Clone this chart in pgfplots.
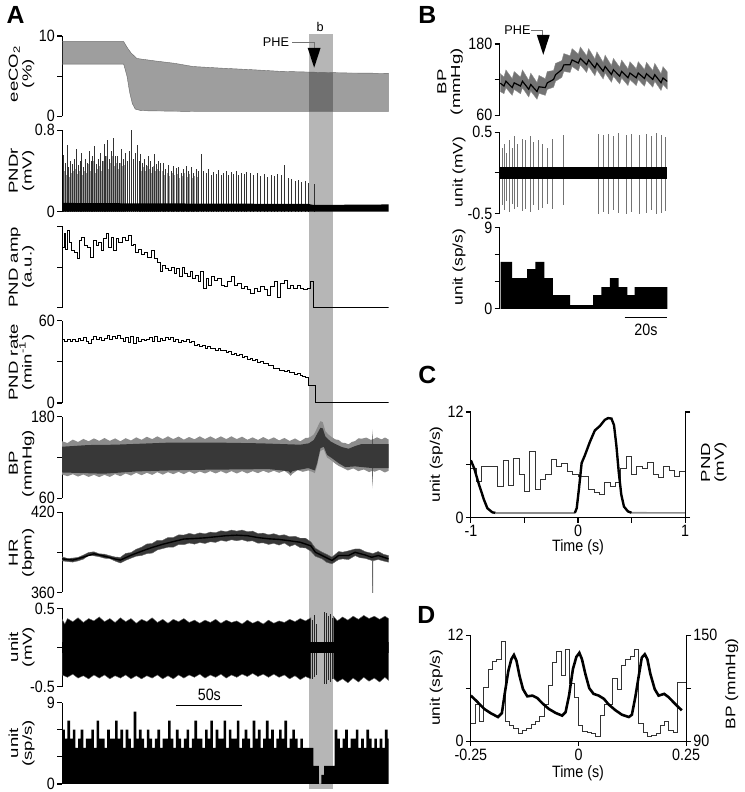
\documentclass[border=0pt]{standalone}
\usepackage{fontspec}
\setmainfont{Liberation Sans}
\usepackage{pgfplots}
\pgfplotsset{compat=1.18}
\definecolor{bandgray}{RGB}{182,182,182}
\newcommand\tkf{\fontsize{7.2}{8}\selectfont}
\newcommand\lbf{\fontsize{6.6}{6.9}\selectfont\lineskiplimit=-20pt\relax}
\newcommand\rlf{\fontsize{7}{8}\selectfont}
\newcommand\smf{\fontsize{6.4}{7}\selectfont}
\pgfplotsset{
  base/.style={scale only axis, anchor=north west, tick align=outside,
    major tick length=2.5pt, axis line style={-, line width=0.6pt},
    every outer x axis line/.append style={-}, every outer y axis line/.append style={-},
    tick style={line width=0.6pt, black}, tick label style={font=\tkf, yscale=1.15},
    yticklabel style={inner sep=1pt}, xticklabel style={inner sep=1pt},
    enlargelimits=false},
  trA/.style={base, axis x line=none, axis y line*=left, xmin=0, xmax=246.75, width=164.5pt},
  trB/.style={base, axis x line=none, axis y line*=left, xmin=0, xmax=78.6, width=84.5pt},
}
\tikzset{
  labA/.style={rotate=90, xscale=1.42, align=center, font=\lbf},
  labR/.style={rotate=90, xscale=1.25, font=\rlf},
  labH/.style={yscale=1.15, font=\tkf},
}
\begin{document}
\begin{tikzpicture}
\begin{scope}[x=0.5pt,y=-0.5pt]
\path[use as bounding box] (0,0) rectangle (742,792);
\fill[bandgray] (307,31) rectangle (331,792);
\end{scope}

% ---------- A1 eeCO2
\begin{axis}[trA, at={(29pt,-16.5pt)}, height=40.5pt, ymin=0, ymax=10, ytick={0,5,10}, yticklabels={0,,10}]
\addplot[fill=black, fill opacity=0.38, draw=black!60, line width=0.2pt] coordinates {
(0,9.3)(46.5,9.3)(49,8.6)(52,7.9)(56.5,7.2)(70,6.9)(85,6.6)(99,6.2)(120,6.0)(144,5.8)(165,5.6)(189,5.5)(215,5.4)(246.75,5.35)
(246.75,0.6)(100,0.6)(60,0.7)(55.25,0.9)(53,1.6)(51,3)(49,5)(46.5,6.5)(0,6.5)} -- cycle;
\end{axis}

% ---------- A2 PNDr
\begin{axis}[trA, at={(29pt,-64pt)}, height=41pt, ymin=0, ymax=0.8, ytick={0,0.8}, yticklabels={0,0.8}]
\addplot[ycomb, black!40, line width=0.45pt] coordinates {
(1.5,0.40)(2.9,0.36)(4.3,0.45)(5.7,0.34)(7.1,0.38)(8.5,0.40)(9.9,0.42)(11.3,0.37)(12.7,0.40)(14.1,0.45)(15.5,0.36)(16.9,0.40)(18.3,0.38)(19.7,0.47)(21.1,0.40)(22.5,0.42)(23.9,0.50)(25.3,0.38)(26.7,0.42)(28.1,0.45)(29.5,0.40)(30.9,0.50)(32.3,0.45)(33.7,0.55)(35.1,0.42)(36.5,0.48)(37.9,0.55)(39.3,0.45)(40.7,0.48)(42.2,0.42)(43.7,0.48)(45.2,0.45)(46.7,0.46)(48.2,0.42)(49.7,0.50)(51.2,0.55)(52.7,0.45)(54.2,0.48)(55.7,0.50)(57.2,0.42)(58.7,0.45)(60.2,0.40)(61.7,0.44)(63.2,0.40)(64.7,0.45)(66.2,0.42)(67.7,0.38)(69.2,0.45)(70.7,0.40)(72.2,0.42)(73.7,0.40)(75.5,0.40)(77.4,0.36)(79.3,0.38)(81.2,0.35)(83.1,0.38)(85.0,0.36)(86.9,0.37)(88.8,0.33)(90.7,0.35)(92.6,0.38)(94.5,0.34)(96.4,0.37)(98.3,0.33)(100.2,0.35)(102.1,0.34)};
\addplot[ycomb, black!80, line width=0.4pt] coordinates {
(0.8,0.56)(2.2,0.48)(3.6,0.65)(5.0,0.44)(6.4,0.50)(7.8,0.47)(9.2,0.52)(10.6,0.62)(12.0,0.46)(13.4,0.50)(14.8,0.58)(16.2,0.44)(17.6,0.52)(19.0,0.48)(20.4,0.60)(21.8,0.50)(23.2,0.55)(24.6,0.64)(26.0,0.47)(27.4,0.52)(28.8,0.58)(30.2,0.50)(31.6,0.66)(33.0,0.55)(34.4,0.70)(35.8,0.52)(37.2,0.60)(38.6,0.72)(40.0,0.55)
(41.5,0.55)(43.0,0.48)(44.5,0.62)(46.0,0.52)(47.5,0.58)(49.0,0.50)(50.5,0.60)(52.0,0.80)(53.5,0.52)(55.0,0.58)(56.5,0.65)(58.0,0.50)(59.5,0.57)(61.0,0.48)(62.5,0.52)(64.0,0.46)(65.5,0.55)(67.0,0.50)(68.5,0.44)(70.0,0.57)(71.5,0.47)(73.0,0.50)(74.5,0.48)
(76.5,0.48)(78.4,0.42)(80.3,0.46)(82.2,0.40)(84.1,0.45)(86.0,0.43)(87.9,0.44)(89.8,0.38)(91.7,0.42)(93.6,0.45)(95.5,0.40)(97.4,0.44)(99.3,0.38)(101.2,0.42)(103.1,0.40)(105.0,0.57)(106.9,0.40)(108.8,0.38)(110.7,0.42)(112.6,0.36)(114.5,0.39)(116.4,0.37)(118.3,0.41)(120.2,0.36)(122.1,0.38)(124.0,0.40)(125.9,0.36)(127.8,0.39)(129.7,0.37)(131.6,0.40)(133.6,0.36)(135.6,0.38)(137.6,0.37)(139.6,0.39)
(142.2,0.38)(144.8,0.36)(147.4,0.38)(150.0,0.35)(152.6,0.37)(155.2,0.34)(157.8,0.36)(160.4,0.35)(163.0,0.37)(165.6,0.36)(168.2,0.46)(170.8,0.33)(173.4,0.32)(176.0,0.30)(178.6,0.31)(181.2,0.29)(183.8,0.30)(186.4,0.28)(191.0,0.27)};
\addplot[fill=black, draw=none] coordinates {
(0,0)(0,0.085)(40,0.082)(80,0.08)(120,0.078)(186,0.075)(190,0.065)(246.75,0.07)(246.75,0)} -- cycle;
\end{axis}

% ---------- A3 PND amp
\begin{axis}[trA, at={(29pt,-112.5pt)}, height=41pt, ymin=0, ymax=1, ytick={0,0.5,1}, yticklabels={,,}]
\addplot[const plot, black, line width=0.5pt] coordinates {
(0,0.74)(1.5,0.91)(2.75,0.72)(4,0.95)(5.75,0.80)(7.25,0.70)(9,0.68)(11.5,0.60)(13.25,0.83)(14.75,0.87)(16.5,0.76)(19,0.74)(21.5,0.62)(24,0.83)(25.75,0.76)(27.75,0.80)(29.75,0.70)(31.5,0.85)(33.25,0.91)(35.25,0.74)(37.25,0.87)(39,0.70)(40.75,0.85)(42.75,0.80)(45.25,0.87)(47.75,0.83)(50.25,0.89)(52.25,0.76)(54,0.78)(55.75,0.68)(57.75,0.72)(59.75,0.66)(62.25,0.68)(64.75,0.62)(67.25,0.70)(69.75,0.60)(71.75,0.56)(74,0.44)(75.75,0.52)(77.75,0.48)(80.25,0.46)(82.75,0.50)(84.75,0.42)(86.75,0.48)(89,0.38)(90.75,0.50)(92.75,0.42)(94.75,0.38)(96.75,0.44)(98.75,0.36)(100.75,0.40)(102.75,0.32)(104.75,0.44)(106.75,0.24)(108.75,0.36)(110.75,0.28)(112.75,0.38)(115.25,0.34)(117.75,0.36)(120.25,0.28)(122.75,0.26)(125.25,0.32)(127.75,0.38)(130.25,0.28)(132.75,0.30)(135.25,0.24)(137.75,0.26)(140.25,0.22)(142.75,0.17)(145.25,0.24)(147.75,0.20)(150.25,0.26)(152.75,0.22)(155.25,0.15)(157.75,0.26)(160.25,0.32)(162.75,0.13)(165.25,0.30)(167.75,0.34)(170.25,0.24)(172.75,0.28)(175.25,0.24)(177.75,0.28)(180.25,0.24)(182.75,0.22)(185.25,0.24)(187.75,0.32)(190.25,0.0)(246.75,0.0)};
\end{axis}

% ---------- A4 PND rate
\begin{axis}[trA, at={(29pt,-160pt)}, height=41.5pt, ymin=0, ymax=60, ytick={0,30,60}, yticklabels={0,,60}]
\addplot[const plot, black, line width=0.5pt] coordinates {
(0,46)(2,45)(4,46.5)(6,45)(8,46)(10,44.5)(12,47)(14,45.5)(16,48)(18,45)(20,43.5)(22,46)(24,48.5)(26,46.5)(28,47.5)(30,45.5)(32,47)(34,49)(36,46)(38,48.5)(40,47)(42,49.5)(44,47)(46,45)(48,47.5)(50,44)(52,48.5)(54,43.5)(56,48)(58,45)(60,46.5)(62,45.5)(64,46)(66,48)(68,45)(70,48.5)(72,44.5)(74,47)(76,45.5)(78,47.5)(80,46)(82,48)(84,45)(86,46.5)(88,44)(90,45.5)(92,44.5)(94,46)(96,44)(98,44.5)(100,42)(102,43)(104,41.5)(106,42)(108,40)(110,41)(112,39.5)(114,40)(116,38.5)(118,39.5)(120,38)(122,38.5)(124,37)(126,37.5)(128,35.5)(130,36)(132,34.5)(134,35)(136,33)(138,34)(140,32)(142,32.5)(144,31)(146,31.5)(148,29.5)(150,30)(152,28.5)(154,29)(156,27)(158,27.5)(160,25.5)(162,25)(164,23.5)(166,24)(168,23)(170,23.5)(172,22)(174,22.5)(176,21)(178,21.5)(180,20)(182,19.5)(184,18.5)(186.5,12.5)(191.5,0.5)(246.75,0.5)};
\end{axis}

% ---------- A5 BP
\begin{axis}[trA, at={(29pt,-208.5pt)}, height=41pt, ymin=60, ymax=180, ytick={60,120,180}, yticklabels={60,,180}]
\addplot[fill=black!45, draw=none] coordinates {
(0,144)(4,141.5)(8,146.5)(12,143)(16,147.5)(20,144)(24,148.3)(28,144.6)(32,148.8)(36,144.6)(40,148.3)(44,144)(48,148.6)(52,145.2)(56,149.8)(60,146.2)(64,150.7)(68,147.2)(72,151.3)(76,147.3)(80,151.3)(84,147.3)(88,151)(92,146.5)(96,150.3)(100,147)(104,151.3)(108,147.3)(112,151.3)(116,147.3)(120,151.3)(124,147.3)(128,151.3)(132,147.3)(136,150.8)(140,146.3)(144,149.8)(148,146)(152,150.2)(156,146.3)(160,149.8)(164,145.3)(168,148.9)(172,144.5)(176,148.2)(180,143.9)(184,149)(186.5,149.3)(188.5,151.5)(190.25,154.1)(191.5,158.5)(192.75,163.9)(194,169)(195.25,173.7)(197,172.2)(199,159)(201,154.5)(202.75,151.7)(206.5,146.8)(209,146)(211.5,142)(214,141.5)(216.5,139.5)(219,143)(221.5,144.4)(224,148.5)(226.5,147.8)(230,149.5)(233.5,146)(234.5,147)(234.75,161.5)(235,147)(238,149.8)(241.5,146.8)(244,149.5)(246.75,146.8)
(246.75,100.5)(244,98)(240,102)(236,99)(235,100.5)(234.75,74.6)(234.5,100.5)(232,98.5)(228,102.5)(224,100)(220,104)(216,101)(212,105)(209,107.8)(206.5,111)(204,115.1)(202,118)(200.25,120)(199,126)(197.75,132.2)(196.5,131)(195.25,129.8)(194,120)(192.75,107.8)(191,97)(189,99)(186,101)(182,99)(178,101.5)(174,96)(172.75,93)(171,96.5)(168,100.5)(164,97.5)(160,100.5)(156,97.5)(152,100.5)(148,97)(144,100)(140,96.5)(136,100)(132,96.5)(128,100)(124,96.5)(120,100)(116,96.5)(112,100)(108,96.5)(104,99.5)(100,96)(96,99.5)(92,95.5)(88,99)(84,95.5)(80,98.5)(76,94.8)(72,98.5)(68,94.5)(64,97.5)(60,94)(56,97.5)(52,93.5)(48,96.5)(44,92.5)(40,95.5)(36,91.5)(32,94.5)(28,91.2)(24,94.5)(20,91.5)(16,95)(12,92)(8,95.5)(4,92.5)(0,95)} -- cycle;
\addplot[fill=black!78, draw=none] coordinates {
(0,136)(20,138.5)(40,139)(60,140.5)(80,142)(120,142)(150,141)(180,139)(186.5,141)(190.25,146)(192.75,155)(195.25,164)(197,163)(199,151)(202.75,144)(206.5,140)(211.5,135.5)(216.5,133)(221.5,137)(226.5,140)(234.5,140)(234.75,155)(235,140)(246.75,140)
(246.75,104.5)(235,104.5)(234.75,78)(234.5,104.5)(221.5,107)(214,106)(209,111.8)(204,119)(200.25,124)(197.75,136)(195.25,133.8)(192.75,111.8)(191,101)(186,104.5)(174,100)(172.75,97)(171,100)(156,103)(106.5,102)(81.5,101)(56.5,99.6)(31.5,96.2)(0,98)} -- cycle;
\end{axis}

% ---------- A6 HR
\begin{axis}[trA, at={(29pt,-256.5pt)}, height=40.5pt, ymin=360, ymax=420, ytick={360,390,420}, yticklabels={360,,420}]
\addplot[fill=black!78, draw=black!60, line width=0.2pt] coordinates {
(0,386.6)(4,385.4)(8,385.7)(12,386.2)(16,387.9)(20,389.9)(24,390.4)(28,388.9)(32,388.6)(36,387.5)(40,386.5)(44,386.2)(48,389.2)(52,389.8)(56,392.3)(60,393.8)(64,396.2)(68,396.6)(72,399)(76,399)(80,401)(84,401)(88,403)(92,402.9)(96,404.1)(100,403.3)(104,404.5)(108,403.8)(112,405.1)(116,404.6)(120,406.1)(124,405.4)(128,406.6)(132,405.8)(136,406.6)(140,405.4)(144,405.8)(148,404)(152,404.3)(156,403.1)(160,403.9)(164,402.6)(168,403.1)(172,401.6)(176,402)(180,400.5)(184,400.5)(188,397.8)(191.5,393)(196.5,390.1)(200,388.5)(204,386.4)(209,390.6)(212,390.1)(216.5,391.1)(221.5,392.5)(225,392.5)(229,390.5)(234,389.3)(234.75,389)(239,390.6)(243,388.5)(246.75,387.6)
(246.75,382.6)(243,383.5)(239,384.6)(235,383.8)(234.85,359.5)(234.65,359.5)(234.5,383.8)(229,385.5)(225,386)(221.5,387.5)(216.5,384.6)(212,385.1)(209,384.6)(204,381.4)(200,382.5)(196.5,385.1)(191.5,387)(188,390.8)(184,393.3)(180,393.5)(176,395.8)(172,394.4)(168,396.9)(164,395.4)(160,396.7)(156,395.9)(152,397.1)(148,396.8)(144,398.6)(140,398.2)(136,399.4)(132,398.6)(128,399.4)(124,398.2)(120,398.9)(116,397.4)(112,397.9)(108,396.6)(104,397.3)(100,396.1)(96,396.9)(92,395.7)(88,395.8)(84,393.8)(80,393.8)(76,392.8)(72,391.8)(68,389.4)(64,389)(60,387.6)(56,387.1)(52,385.6)(48,384)(44,382)(40,383.5)(36,385.3)(32,385.6)(28,386.7)(24,387.4)(20,387.7)(16,384.9)(12,383.6)(8,382.7)(4,383.1)(0,383.6)} -- cycle;
\addplot[black, line width=0.7pt] coordinates {
(0,385.1)(8,384.2)(16,386.4)(24,388.9)(32,387.1)(40,385)(44,384.2)(52,387.8)(60,390.8)(68,393.6)(76,396)(84,398)(92,399.9)(100,400.3)(108,400.8)(116,401.6)(124,402.4)(132,402.8)(140,402.4)(148,401)(156,400.1)(164,399.6)(172,398.6)(180,397.5)(188,394.8)(191.5,390)(196.5,387.6)(204,383.9)(209,387.6)(216.5,387.6)(221.5,390)(229,388)(234,386.3)(239,387.6)(246.75,385.1)};
\end{axis}

% ---------- A7 unit mV
\begin{axis}[trA, at={(29pt,-305pt)}, height=39.5pt, ymin=-0.5, ymax=0.5, ytick={-0.5,0,0.5}, yticklabels={-0.5,,0.5}]
\addplot[fill=black, draw=black!60, line width=0.2pt] coordinates {
(0,0.36)(2,0.30)(4,0.37)(8,0.33)(12,0.38)(16,0.32)(20,0.37)(24,0.34)(28,0.39)(32,0.33)(36,0.37)(40,0.32)(44,0.38)(48,0.33)(52,0.37)(56,0.31)(60,0.36)(64,0.33)(68,0.38)(72,0.32)(76,0.36)(80,0.31)(84,0.36)(88,0.33)(92,0.37)(96,0.32)(100,0.35)(104,0.31)(108,0.35)(112,0.32)(116,0.36)(120,0.31)(124,0.35)(128,0.32)(132,0.34)(136,0.30)(140,0.35)(144,0.31)(148,0.34)(152,0.30)(156,0.35)(160,0.31)(164,0.34)(168,0.32)(172,0.36)(176,0.33)(180,0.37)(184,0.34)(188,0.38)
(188,-0.40)(184,-0.37)(180,-0.41)(176,-0.36)(172,-0.40)(168,-0.35)(164,-0.38)(160,-0.34)(156,-0.38)(152,-0.34)(148,-0.37)(144,-0.33)(140,-0.37)(136,-0.34)(132,-0.38)(128,-0.35)(124,-0.39)(120,-0.34)(116,-0.38)(112,-0.35)(108,-0.39)(104,-0.34)(100,-0.38)(96,-0.35)(92,-0.39)(88,-0.35)(84,-0.40)(80,-0.36)(76,-0.40)(72,-0.35)(68,-0.39)(64,-0.36)(60,-0.40)(56,-0.36)(52,-0.40)(48,-0.35)(44,-0.39)(40,-0.36)(36,-0.40)(32,-0.35)(28,-0.39)(24,-0.35)(20,-0.40)(16,-0.36)(12,-0.39)(8,-0.34)(4,-0.38)(0,-0.35)} -- cycle;
\addplot[fill=black, draw=black!60, line width=0.2pt] coordinates {
(205,0.40)(208,0.34)(212,0.39)(216,0.35)(220,0.40)(224,0.36)(228,0.41)(232,0.37)(236,0.40)(240,0.36)(244,0.40)(246.75,0.37)
(246.75,-0.42)(244,-0.38)(240,-0.44)(236,-0.39)(232,-0.43)(228,-0.38)(224,-0.44)(220,-0.39)(216,-0.45)(212,-0.40)(208,-0.44)(205,-0.39)} -- cycle;
\addplot[ycomb, black!85, line width=0.4pt] coordinates {
(189,0.35)(190.75,0.42)(192.25,0.30)(198.25,0.45)(199.5,0.44)(201,0.40)(202.75,0.43)(204.5,0.38)};
\addplot[ycomb, black!85, line width=0.4pt] coordinates {
(189,-0.40)(190.75,-0.38)(192.25,-0.35)(198.25,-0.46)(199.5,-0.47)(201,-0.42)(202.75,-0.44)(204.5,-0.40)};
\addplot[fill=black, draw=none] coordinates {(0,0.07)(246.75,0.07)(246.75,-0.07)(0,-0.07)} -- cycle;
\end{axis}

% ---------- A8 unit sp/s
\begin{axis}[trA, at={(29pt,-352.5pt)}, height=41pt, ymin=0, ymax=9, ytick={0,3,6,9}, yticklabels={0,,,9}, clip=false]
\addplot[const plot, fill=black, draw=none] coordinates {
(0,6)(2,5)(4,7)(6,5)(8,6)(10,4)(12,5)(14,6)(16,4)(18,5)(20,5)(22,6)(24,4)(26,7)(28,5)(30,5)(32,4)(34,6)(36,5)(38,5)(40,7)(42,5)(44,6)(46,4)(48,6)(50,5)(52,4)(54,8)(56,5)(58,6)
(60,5)(62,4)(64,6)(66,5)(68,4)(70,5)(72,6)(74,4)(76,5)(78,5)(80,7)(82,5)(84,4)(86,6)(88,5)(90,4)(92,5)(94,6)(96,4)(98,5)(100,7)(102,5)(104,5)(106,4)(108,6)(110,5)(112,7)(114,4)(116,6)(118,5)
(120,5)(122,7)(124,4)(126,6)(128,5)(130,5)(132,7)(134,4)(136,5)(138,6)(140,5)(142,4)(144,7)(146,5)(148,6)(150,4)(152,5)(154,7)(156,5)(158,6)(160,4)(162,5)(164,6)(166,5)(168,7)(170,4)(172,5)(174,6)(176,5)(178,4)(180,5)(182,4)(184,4)
(186,4)(188,4)(190,2)(192,2)(194,0)(196,1)(198,2)(200,2)(202,2)(204,2)
(206,6)(208,5)(210,4)(212,5)(214,6)(216,4)(218,5)(220,5)(222,6)(224,4)(226,5)(228,4)(230,6)(232,5)(234,4)(236,5)(238,4)(240,5)(242,4)(244,6)(246,5)(246.75,5)} \closedcycle;
\draw[line width=0.7pt] (axis cs:86.25,8.67) -- (axis cs:136.25,8.67);
\node[labH] at (axis cs:111.25,9.85) {50s};
\end{axis}

% ---------- B1 BP
\begin{axis}[trB, at={(249.5pt,-20.5pt)}, height=36pt, ymin=60, ymax=180, ytick={60,120,180}, yticklabels={60,,180}]
\addplot[fill=black!55, draw=black!45, line width=0.2pt] coordinates {
(0.3,130)(2.02,124.3)(2.95,136.3)(5.89,121.6)(6.82,133.6)(9.77,124.3)(10.70,136.3)(13.65,118.8)(14.58,130.8)(17.52,115)(18.45,127)(21.40,121.6)(22.33,133.6)(25.28,135.3)(26.21,147.3)(29.15,151.8)(30.08,163.8)(33.03,160.1)(33.96,172.1)(36.90,162.8)(37.83,174.8)(40.78,160.1)(41.71,172.1)(44.66,154.6)(45.59,166.6)(48.53,149.1)(49.46,161.1)(52.41,143.6)(53.34,155.6)(56.28,140.8)(57.21,152.8)(60.16,138.1)(61.09,150.1)(64.04,138.1)(64.97,150.1)(67.91,137)(68.84,149)(71.79,135.3)(72.72,147.3)(75.66,129.8)(76.59,141.8)(78.6,133)
(78.6,104)(76.59,111.8)(75.66,101.8)(72.72,117.3)(71.79,107.3)(68.84,119)(67.91,109)(64.97,120.1)(64.04,110.1)(61.09,120.1)(60.16,110.1)(57.21,122.8)(56.28,112.8)(53.34,125.6)(52.41,115.6)(49.46,131.1)(48.53,121.1)(45.59,136.6)(44.66,126.6)(41.71,142.1)(40.78,132.1)(37.83,144.8)(36.90,134.8)(33.96,142.1)(33.03,132.1)(30.08,133.8)(29.15,123.8)(26.21,117.3)(25.28,107.3)(22.33,103.6)(21.40,93.6)(18.45,97)(17.52,87)(14.58,100.8)(13.65,90.8)(10.70,106.3)(9.77,96.3)(6.82,103.6)(5.89,93.6)(2.95,106.3)(2.02,96.3)(0.3,100)} -- cycle;
\addplot[black, line width=0.6pt] coordinates {
(0.3,114)(2.02,109.3)(2.95,117.3)(5.89,106.6)(6.82,114.6)(9.77,109.3)(10.70,117.3)(13.65,103.8)(14.58,111.8)(17.52,100)(18.45,108)(21.40,106.6)(22.33,114.6)(25.28,120.3)(26.21,128.3)(29.15,136.8)(30.08,144.8)(33.03,145.1)(33.96,153.1)(36.90,147.8)(37.83,155.8)(40.78,145.1)(41.71,153.1)(44.66,139.6)(45.59,147.6)(48.53,134.1)(49.46,142.1)(52.41,128.6)(53.34,136.6)(56.28,125.8)(57.21,133.8)(60.16,123.1)(61.09,131.1)(64.04,123.1)(64.97,131.1)(67.91,122)(68.84,130)(71.79,120.3)(72.72,128.3)(75.66,114.8)(76.59,122.8)(78.6,117)};
\end{axis}

% ---------- B2 unit mV
\begin{axis}[trB, at={(249.5pt,-65pt)}, height=41pt, ymin=-0.5, ymax=0.5, ytick={-0.5,0,0.5}, yticklabels={-0.5,,0.5}]
\addplot[ycomb, black!55, line width=0.4pt] coordinates {
(1.24,0.30)(2.33,0.36)(3.26,0.25)(4.34,0.40)(5.89,0.30)(6.98,0.45)(8.22,0.35)(10.54,0.42)(12.09,0.40)(14.42,0.45)(15.97,0.38)(18.29,0.40)(19.84,0.35)(22.17,0.30)(24.50,0.42)(29.92,0.47)(46.2,0.48)(48.53,0.46)(50.85,0.48)(53.18,0.45)(55.50,0.49)(59.38,0.47)(61.71,0.48)(65.58,0.46)(68.68,0.48)(71.01,0.45)(73.33,0.49)(75.66,0.47)(77.52,0.44)};
\addplot[ycomb, black!55, line width=0.4pt] coordinates {
(1.24,-0.40)(2.33,-0.46)(3.26,-0.35)(4.34,-0.48)(5.89,-0.38)(6.98,-0.45)(8.22,-0.42)(10.54,-0.47)(12.09,-0.44)(14.42,-0.48)(15.97,-0.40)(18.29,-0.46)(19.84,-0.43)(22.17,-0.38)(24.50,-0.45)(29.92,-0.40)(46.2,-0.50)(48.53,-0.48)(50.85,-0.50)(53.18,-0.46)(55.50,-0.49)(59.38,-0.50)(61.71,-0.48)(65.58,-0.50)(68.68,-0.49)(71.01,-0.46)(73.33,-0.50)(75.66,-0.49)(77.52,-0.47)};
\addplot[fill=black, draw=none] coordinates {(0.3,0.07)(78.6,0.07)(78.6,-0.07)(0.3,-0.07)} -- cycle;
\end{axis}

% ---------- B3 unit sp/s
\begin{axis}[trB, at={(249.5pt,-113pt)}, height=41pt, ymin=0, ymax=9, ytick={0,3,6,9}, yticklabels={0,,,9}, clip=false]
\addplot[const plot, fill=black, draw=none] coordinates {
(0.47,5.2)(5.89,3.4)(12.87,4.4)(16.74,5.2)(20.93,3.4)(24.96,1.5)(33.02,0.4)(43.88,1.5)(47.75,2.4)(51.63,3.4)(55.81,2.4)(59.84,1.5)(63.26,2.4)(78.6,2.4)} \closedcycle;
\draw[line width=0.7pt] (axis cs:58.6,-0.95) -- (axis cs:78.6,-0.95);
\node[labH] at (axis cs:68.6,-2.3) {20s};
\end{axis}

% ---------- C
\begin{axis}[base, at={(235pt,-206pt)}, width=108pt, height=53.25pt, xmin=-1, xmax=1, ymin=0, ymax=12,
  axis x line*=bottom, axis y line*=left, xtick={-1,-0.5,0,0.5,1}, xticklabels={-1,,0,,1},
  ytick={0,6,12}, yticklabels={0,,12}]
\addplot[const plot, black!80, line width=0.5pt] coordinates {
(-1,5.6)(-0.95,4.1)(-0.90,5.8)(-0.85,5.8)(-0.80,5.8)(-0.75,3.5)(-0.70,6.5)(-0.65,3.7)(-0.60,6.7)(-0.55,4.9)(-0.50,3.0)(-0.45,7.5)(-0.40,3.2)(-0.35,4.3)(-0.30,4.9)(-0.25,6.6)(-0.20,5.8)(-0.15,6.1)(-0.10,5.2)(-0.05,4.9)(0,4.7)(0.05,4.7)(0.10,3.2)(0.15,2.8)(0.20,2.6)(0.25,4.0)(0.30,3.5)(0.35,4.0)(0.40,5.6)(0.45,6.9)(0.50,4.9)(0.55,5.8)(0.60,5.6)(0.65,6.3)(0.70,4.9)(0.75,4.5)(0.80,5.8)(0.85,5.4)(0.90,4.7)(0.95,5.2)(1,5.2)};
\addplot[black!45, line width=0.8pt] coordinates {(-0.77,0.53)(-0.03,0.53)};
\addplot[black!45, line width=0.8pt] coordinates {(0.5,0.55)(1,0.53)};
\addplot[black, line width=1.2pt] coordinates {(-1,6.5)(-0.969,5.6)(-0.923,3.7)(-0.877,2.0)(-0.846,1.06)(-0.80,0.6)(-0.77,0.53)};
\addplot[black, line width=1.2pt] coordinates {(-0.03,0.53)(-0.012,1.06)(0.009,3.3)(0.034,6.2)(0.065,7.1)(0.111,8.6)(0.157,9.9)(0.204,10.4)(0.25,11.1)(0.281,11.3)(0.312,11.25)(0.336,10.5)(0.358,8.2)(0.380,5.2)(0.404,2.6)(0.429,1.25)(0.466,0.7)(0.5,0.55)};
\end{axis}
\begin{axis}[base, at={(235pt,-206pt)}, width=108pt, height=53.25pt, xmin=-1, xmax=1, ymin=0, ymax=12,
  axis x line=none, axis y line*=right, ytick={0,12}, yticklabels={,}]
\end{axis}

% ---------- D
\begin{axis}[base, at={(235pt,-318.5pt)}, width=108.5pt, height=53.5pt, xmin=-0.25, xmax=0.25, ymin=0, ymax=12,
  axis x line*=bottom, axis y line*=left, xtick={-0.25,0,0.25}, xticklabels={-0.25,0,0.25},
  ytick={0,6,12}, yticklabels={0,,12}]
\addplot[const plot, black!80, line width=0.5pt] coordinates {
(-0.25,2.0)(-0.24,4.2)(-0.23,2.2)(-0.22,6.1)(-0.21,8.1)(-0.20,9.0)(-0.19,9.2)(-0.18,11.3)(-0.17,2.2)(-0.16,1.8)(-0.15,1.4)(-0.14,0.9)(-0.13,1.2)(-0.12,1.4)(-0.11,1.9)(-0.10,2.2)(-0.09,2.8)(-0.08,4.2)(-0.07,6.3)(-0.06,8.9)(-0.05,10.2)(-0.04,7.4)(-0.03,10.4)(-0.02,6.5)(-0.01,5.0)(0,1.8)(0.01,1.1)(0.02,1.0)(0.03,0.9)(0.04,0.5)(0.05,2.9)(0.06,4.2)(0.07,4.2)(0.08,7.1)(0.09,5.8)(0.10,8.6)(0.11,9.2)(0.12,9.6)(0.13,10.4)(0.14,2.0)(0.15,1.0)(0.16,0.5)(0.17,0.7)(0.18,0.9)(0.19,1.8)(0.20,2.2)(0.21,1.2)(0.22,1.0)(0.23,6.7)(0.24,6.7)(0.25,6.7)};
\end{axis}
\begin{axis}[base, at={(235pt,-318.5pt)}, width=108.5pt, height=53.5pt, xmin=-0.25, xmax=0.25, ymin=90, ymax=150,
  axis x line=none, axis y line*=right, ytick={90,120,150}, yticklabels={90,,150}]
\addplot[black, line width=1.3pt] coordinates {
(-0.25,115.8)(-0.238,113)(-0.219,108.3)(-0.204,105.9)(-0.187,103.7)(-0.178,105.9)(-0.171,117.5)(-0.163,129.8)(-0.156,136.4)(-0.150,138.8)(-0.144,135.4)(-0.137,127)(-0.129,119.5)(-0.119,115.4)(-0.107,115.8)(-0.096,114.5)(-0.084,111.5)(-0.069,108.3)(-0.053,106)(-0.038,104.5)(-0.030,106.5)(-0.022,115.8)(-0.013,130.8)(-0.005,137.7)(0.002,140)(0.008,136.4)(0.016,128)(0.025,120)(0.035,116.8)(0.047,115.8)(0.059,114)(0.070,110.8)(0.086,107.5)(0.101,105)(0.117,103.7)(0.124,105)(0.132,115)(0.140,127)(0.147,137.3)(0.154,139.2)(0.160,136.4)(0.167,128)(0.177,119.5)(0.186,115.8)(0.199,116.8)(0.209,115)(0.221,112)(0.232,109.3)(0.240,107.5)};
\end{axis}

% ---------- annotations
\begin{scope}[x=0.5pt,y=-0.5pt]
\node[font=\fontsize{12.5}{12.5}\selectfont\bfseries] at (11,12) {A};
\node[font=\fontsize{12.5}{12.5}\selectfont\bfseries] at (426,12) {B};
\node[font=\fontsize{12.5}{12.5}\selectfont\bfseries] at (426,375) {C};
\node[font=\fontsize{12.5}{12.5}\selectfont\bfseries] at (425,617) {D};
% A labels
\node[labA] at (17,71) {eeCO\textsubscript{2}\\(\%)};
\node[labA] at (17,169) {PNDr\\(mV)};
\node[labA] at (17,266) {PND amp\\(a.u.)};
\node[labA] at (17,362) {PND rate\\(min\textsuperscript{-1})};
\node[labA] at (17,464) {BP\\(mmHg)};
\node[labA] at (17,554) {HR\\(bpm)};
\node[labA] at (17,649) {unit\\(mV)};
\node[labA] at (17,746) {unit\\(sp/s)};
% B labels
\node[labA] at (449,79) {BP\\(mmHg)};
\node[labR] at (458,170) {unit (mV)};
\node[labR] at (458,266) {unit (sp/s)};
% C labels
\node[labR] at (435,465) {unit (sp/s)};
\node[labA] at (715,463) {PND\\(mV)};
\node[labH] at (578,548) {Time (s)};
% D labels
\node[labR] at (435,690) {unit (sp/s)};
\node[labR] at (733,686) {BP (mmHg)};
\node[labH] at (578,776) {Time (s)};
% PHE markers
\node[font=\smf] at (273.5,39) {PHE};
\node[font=\smf] at (318,24) {b};
\draw[black!55, line width=0.4pt] (290,39) -- (312,39) -- (312,45);
\fill[black] (305.5,45) -- (318.5,45) -- (312,65) -- cycle;
\node[font=\smf] at (517,27) {PHE};
\draw[black!55, line width=0.4pt] (531,27) -- (542,27) -- (542,32);
\fill[black] (536.5,32) -- (549.5,32) -- (543,52) -- cycle;
\end{scope}
\end{tikzpicture}
\end{document}
